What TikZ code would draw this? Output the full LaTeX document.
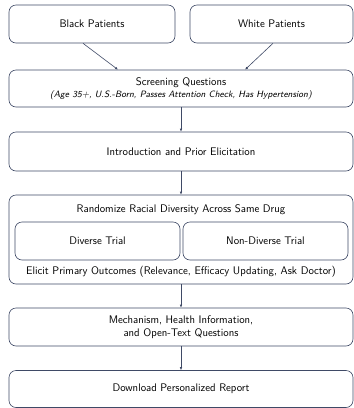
\documentclass[tikz,border=0pt]{standalone}
\usepackage{amsmath}
\usepackage{amssymb}
\usetikzlibrary{positioning,arrows.meta}

\definecolor{edgeblue}{HTML}{3F4A66}

\tikzset{
    box/.style={draw=edgeblue, line width=0.6pt, rounded corners=7pt,
        minimum height=38pt, align=center, inner sep=2pt,
        font=\sffamily\fontsize{11}{13}\selectfont},
    link/.style={draw=edgeblue, line width=0.6pt, -{Latex[length=3pt,width=2.6pt]}}
}

\begin{document}
\begin{tikzpicture}[x=1pt,y=1pt]
    \useasboundingbox (0,0) rectangle (354,-408);
    % Gruppi di pazienti
    \node[box, minimum width=166pt] (black) at (92,-24) {Black Patients};
    \node[box, minimum width=163pt] (white) at (271.5,-24) {White Patients};
    % Screening
    \node[box, minimum width=344pt, minimum height=37pt] (screen) at (181,-88.5)
        {Screening Questions\\[-1.5pt]{\fontsize{9.2}{11}\selectfont\itshape (Age 35+, U.S.-Born, Passes Attention Check, Has Hypertension)}};
    \node[box, minimum width=344pt, minimum height=39pt] (intro) at (181,-151.5) {Introduction and Prior Elicitation};
    % Randomizzazione
    \node[box, minimum width=344pt, minimum height=89pt] (rand) at (181,-239.5) {};
    \node[font=\sffamily\fontsize{11}{13}\selectfont] (randtxt) at (181,-210) {Randomize Racial Diversity Across Same Drug};
    \node[box, minimum width=165pt] (div) at (97.5,-241) {Diverse Trial};
    \node[box, minimum width=165pt] (nondiv) at (265.5,-241) {Non-Diverse Trial};
    \node[font=\sffamily\fontsize{11}{13}\selectfont] (elicit) at (181,-272) {Elicit Primary Outcomes (Relevance, Efficacy Updating, Ask Doctor)};
    % Parte finale
    \node[box, minimum width=344pt] (mech) at (181,-327) {Mechanism, Health Information,\\and Open-Text Questions};
    \node[box, minimum width=344pt, minimum height=37pt] (report) at (181,-389) {Download Personalized Report};
    % Collegamenti
    \draw[link] ([xshift=-9pt]black.south) -- ([xshift=-63pt]screen.north);
    \draw[link] ([xshift=1.5pt]white.south) -- ([xshift=64pt]screen.north);
    \draw[link] (screen) -- (intro);
    \draw[link] (intro) -- (rand);
    \draw[link] (rand) -- (mech);
    \draw[link] (mech) -- (report);
\end{tikzpicture}
\end{document}
